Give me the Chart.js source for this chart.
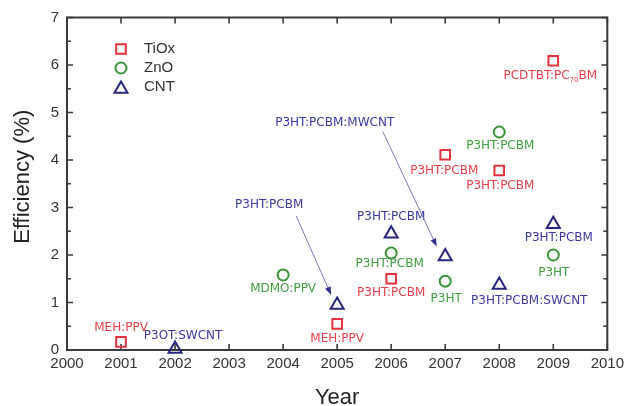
<!DOCTYPE html>
<html><head><meta charset="utf-8">
<script src="https://cdn.jsdelivr.net/npm/chart.js@4/dist/chart.umd.min.js"></script>
<style>html,body{margin:0;padding:0;background:#fff;}canvas{display:block;}</style>
</head><body>
<canvas id="c" width="629" height="406"></canvas>
<script>
// ---- data ----
const seriesNames = ['TiOx', 'ZnO', 'CNT'];
const tioxYears = [2001, 2005, 2006, 2007, 2008, 2009];
const tioxEff = [0.17, 0.55, 1.50, 4.11, 3.78, 6.09];
const tioxLabels = ['MEH:PPV', 'MEH:PPV', 'P3HT:PCBM', 'P3HT:PCBM', 'P3HT:PCBM', 'PCDTBT:PC_{70}BM'];
const znoYears = [2004, 2006, 2007, 2008, 2009];
const znoEff = [1.58, 2.04, 1.45, 4.59, 2.00];
const znoLabels = ['MDMO:PPV', 'P3HT:PCBM', 'P3HT', 'P3HT:PCBM', 'P3HT'];
const cntYears = [2002, 2005, 2006, 2007, 2008, 2009];
const cntEff = [0.02, 0.95, 2.45, 1.97, 1.37, 2.65];
const cntLabels = ['P3OT:SWCNT', 'P3HT:PCBM', 'P3HT:PCBM', 'P3HT:PCBM:MWCNT', 'P3HT:PCBM:SWCNT', 'P3HT:PCBM'];
const xTickLabels = ['2000', '2001', '2002', '2003', '2004', '2005', '2006', '2007', '2008', '2009', '2010'];
const yTickLabels = ['0', '1', '2', '3', '4', '5', '6', '7'];
const xTitle = 'Year';
const yTitle = 'Efficiency (%)';

// ---- styles (pixel offsets of annotation text from its point) ----
const tioxLabelOffsets = [[0, -14], [0, 15], [0, 14], [-1, 16], [1, 15], [-3, 15]];
const znoLabelOffsets = [[0, 14], [-1.5, 11], [1, 18], [1, 14], [0.5, 18]];
const cntLabelOffsets = [[8, -13], [-68, -100], [0, -17], [-110.5, -134], [30, 16], [5.5, 14]];
const cntArrows = [null, {from: [-41, -89], to: [-6, -10]}, null, {from: [-62.5, -125], to: [-8.5, -10]}, null, null];

const markerColors = ['#e4323c', '#3a943a', '#262680'];
const textColors = ['#e63e48', '#3f9c3f', '#3a3aa0'];
const pointStyles = ['rect', 'circle', 'triangle'];
const pointRadii = [6.8, 5.5, 7.5];
const FONT = "'Liberation Sans', Arial, sans-serif";
const LABEL_FONT = "'DejaVu Sans', Verdana, sans-serif";

const allYears = [tioxYears, znoYears, cntYears];
const allEff = [tioxEff, znoEff, cntEff];
const allLabels = [tioxLabels, znoLabels, cntLabels];
const allOffsets = [tioxLabelOffsets, znoLabelOffsets, cntLabelOffsets];
const allArrows = [[], [], cntArrows];

const datasets = seriesNames.map((name, i) => ({
  label: name,
  data: allYears[i].map((x, j) => ({x: x, y: allEff[i][j]})),
  pointStyle: pointStyles[i],
  pointRadius: pointRadii[i],
  pointHoverRadius: pointRadii[i],
  pointBorderWidth: 2,
  pointHoverBorderWidth: 2,
  borderColor: markerColors[i],
  backgroundColor: 'rgba(0,0,0,0)',
  showLine: false,
  clip: false
}));

function drawRichText(ctx, text, cx, cy, size) {
  const parts = [];
  const re = /_\{([^}]*)\}/g;
  let last = 0, m;
  while ((m = re.exec(text)) !== null) {
    if (m.index > last) parts.push({t: text.slice(last, m.index), sub: false});
    parts.push({t: m[1], sub: true});
    last = re.lastIndex;
  }
  if (last < text.length) parts.push({t: text.slice(last), sub: false});
  const subSize = Math.round(size * 0.62);
  let total = 0;
  parts.forEach(p => {
    ctx.font = (p.sub ? subSize : size) + 'px ' + LABEL_FONT;
    p.w = ctx.measureText(p.t).width;
    total += p.w;
  });
  let x = cx - total / 2;
  ctx.textAlign = 'left';
  ctx.textBaseline = 'middle';
  parts.forEach(p => {
    ctx.font = (p.sub ? subSize : size) + 'px ' + LABEL_FONT;
    ctx.fillText(p.t, x, p.sub ? cy + 4 : cy);
    x += p.w;
  });
}

const framePlugin = {
  id: 'frame',
  beforeDatasetsDraw(chart) {
    const {ctx, chartArea: a, scales} = chart;
    const xs = scales.x, ys = scales.y;
    ctx.save();
    ctx.strokeStyle = '#3a3a3a';
    ctx.lineWidth = 1.6;
    ctx.beginPath();
    xTickLabels.forEach(t => {
      const px = xs.getPixelForValue(Number(t));
      ctx.moveTo(px, a.bottom); ctx.lineTo(px, a.bottom - 6);
      ctx.moveTo(px, a.top); ctx.lineTo(px, a.top + 6);
    });
    yTickLabels.forEach(t => {
      const v = Number(t);
      const py = ys.getPixelForValue(v);
      ctx.moveTo(a.left, py); ctx.lineTo(a.left + 6, py);
      ctx.moveTo(a.right, py); ctx.lineTo(a.right - 6, py);
      if (v < 7) {
        const pm = ys.getPixelForValue(v + 0.5);
        ctx.moveTo(a.left, pm); ctx.lineTo(a.left + 4, pm);
        ctx.moveTo(a.right, pm); ctx.lineTo(a.right - 4, pm);
      }
    });
    ctx.stroke();
    ctx.lineWidth = 2;
    ctx.strokeRect(a.left, a.top, a.right - a.left, a.bottom - a.top);
    // y-axis title
    ctx.fillStyle = '#222';
    ctx.font = '22px ' + FONT;
    ctx.textAlign = 'center';
    ctx.textBaseline = 'middle';
    ctx.translate(23, (a.top + a.bottom) / 2 - 7);
    ctx.rotate(-Math.PI / 2);
    ctx.fillText(yTitle, 0, 0);
    ctx.restore();
  }
};

const annotationPlugin = {
  id: 'annot',
  afterDatasetsDraw(chart) {
    const ctx = chart.ctx;
    ctx.save();
    seriesNames.forEach((n, i) => {
      const meta = chart.getDatasetMeta(i);
      meta.data.forEach((el, j) => {
        const off = allOffsets[i][j];
        ctx.fillStyle = textColors[i];
        drawRichText(ctx, allLabels[i][j], el.x + off[0], el.y + off[1], 12);
        const arr = allArrows[i][j];
        if (arr) {
          const x1 = el.x + arr.from[0], y1 = el.y + arr.from[1];
          const x2 = el.x + arr.to[0], y2 = el.y + arr.to[1];
          const ang = Math.atan2(y2 - y1, x2 - x1);
          const hl = 8, hw = 3;
          const bx = x2 - Math.cos(ang) * hl, by = y2 - Math.sin(ang) * hl;
          ctx.strokeStyle = '#7a7ab4';
          ctx.lineWidth = 1;
          ctx.beginPath(); ctx.moveTo(x1, y1); ctx.lineTo(bx, by); ctx.stroke();
          ctx.fillStyle = '#30308a';
          ctx.beginPath();
          ctx.moveTo(x2, y2);
          ctx.lineTo(bx + Math.sin(ang) * hw, by - Math.cos(ang) * hw);
          ctx.lineTo(bx - Math.sin(ang) * hw, by + Math.cos(ang) * hw);
          ctx.closePath(); ctx.fill();
        }
      });
    });
    // legend
    const a = chart.chartArea;
    seriesNames.forEach((n, i) => {
      const mx = a.left + 54, my = a.top + 31.5 + i * 19;
      ctx.strokeStyle = markerColors[i];
      ctx.fillStyle = 'rgba(0,0,0,0)';
      ctx.lineWidth = 2;
      Chart.helpers.drawPoint(ctx, {pointStyle: pointStyles[i], radius: pointRadii[i], rotation: 0, borderWidth: 2}, mx, my + (i === 2 ? 2 : 0));
      ctx.fillStyle = '#333';
      ctx.font = '15px ' + FONT;
      ctx.textAlign = 'left';
      ctx.textBaseline = 'middle';
      ctx.fillText(n, a.left + 77, my);
    });
    ctx.restore();
  }
};

new Chart(document.getElementById('c'), {
  type: 'scatter',
  data: {datasets: datasets},
  options: {
    responsive: false,
    animation: false,
    devicePixelRatio: 1,
    layout: {padding: {top: 17.5, right: 20, left: 0, bottom: 0}},
    plugins: {legend: {display: false}, tooltip: {enabled: false}},
    scales: {
      x: {
        type: 'linear', min: 2000, max: 2010,
        ticks: {stepSize: 1, autoSkip: false, maxRotation: 0, padding: 5, color: '#333',
          font: {size: 15, family: FONT},
          callback: v => xTickLabels[Math.round(v - 2000)]},
        grid: {display: false, drawTicks: false},
        border: {display: false},
        title: {display: true, text: xTitle, color: '#222', padding: 0,
          font: {size: 22, family: FONT, lineHeight: 0.7}},
        afterFit(s) { s.height = 56; }
      },
      y: {
        type: 'linear', min: 0, max: 7,
        ticks: {stepSize: 1, padding: 8, color: '#333',
          font: {size: 15, family: FONT},
          callback: v => yTickLabels[Math.round(v)]},
        grid: {display: false, drawTicks: false},
        border: {display: false},
        title: {display: false},
        afterFit(s) { s.width = 67; }
      }
    }
  },
  plugins: [framePlugin, annotationPlugin]
});
</script>
</body></html>
